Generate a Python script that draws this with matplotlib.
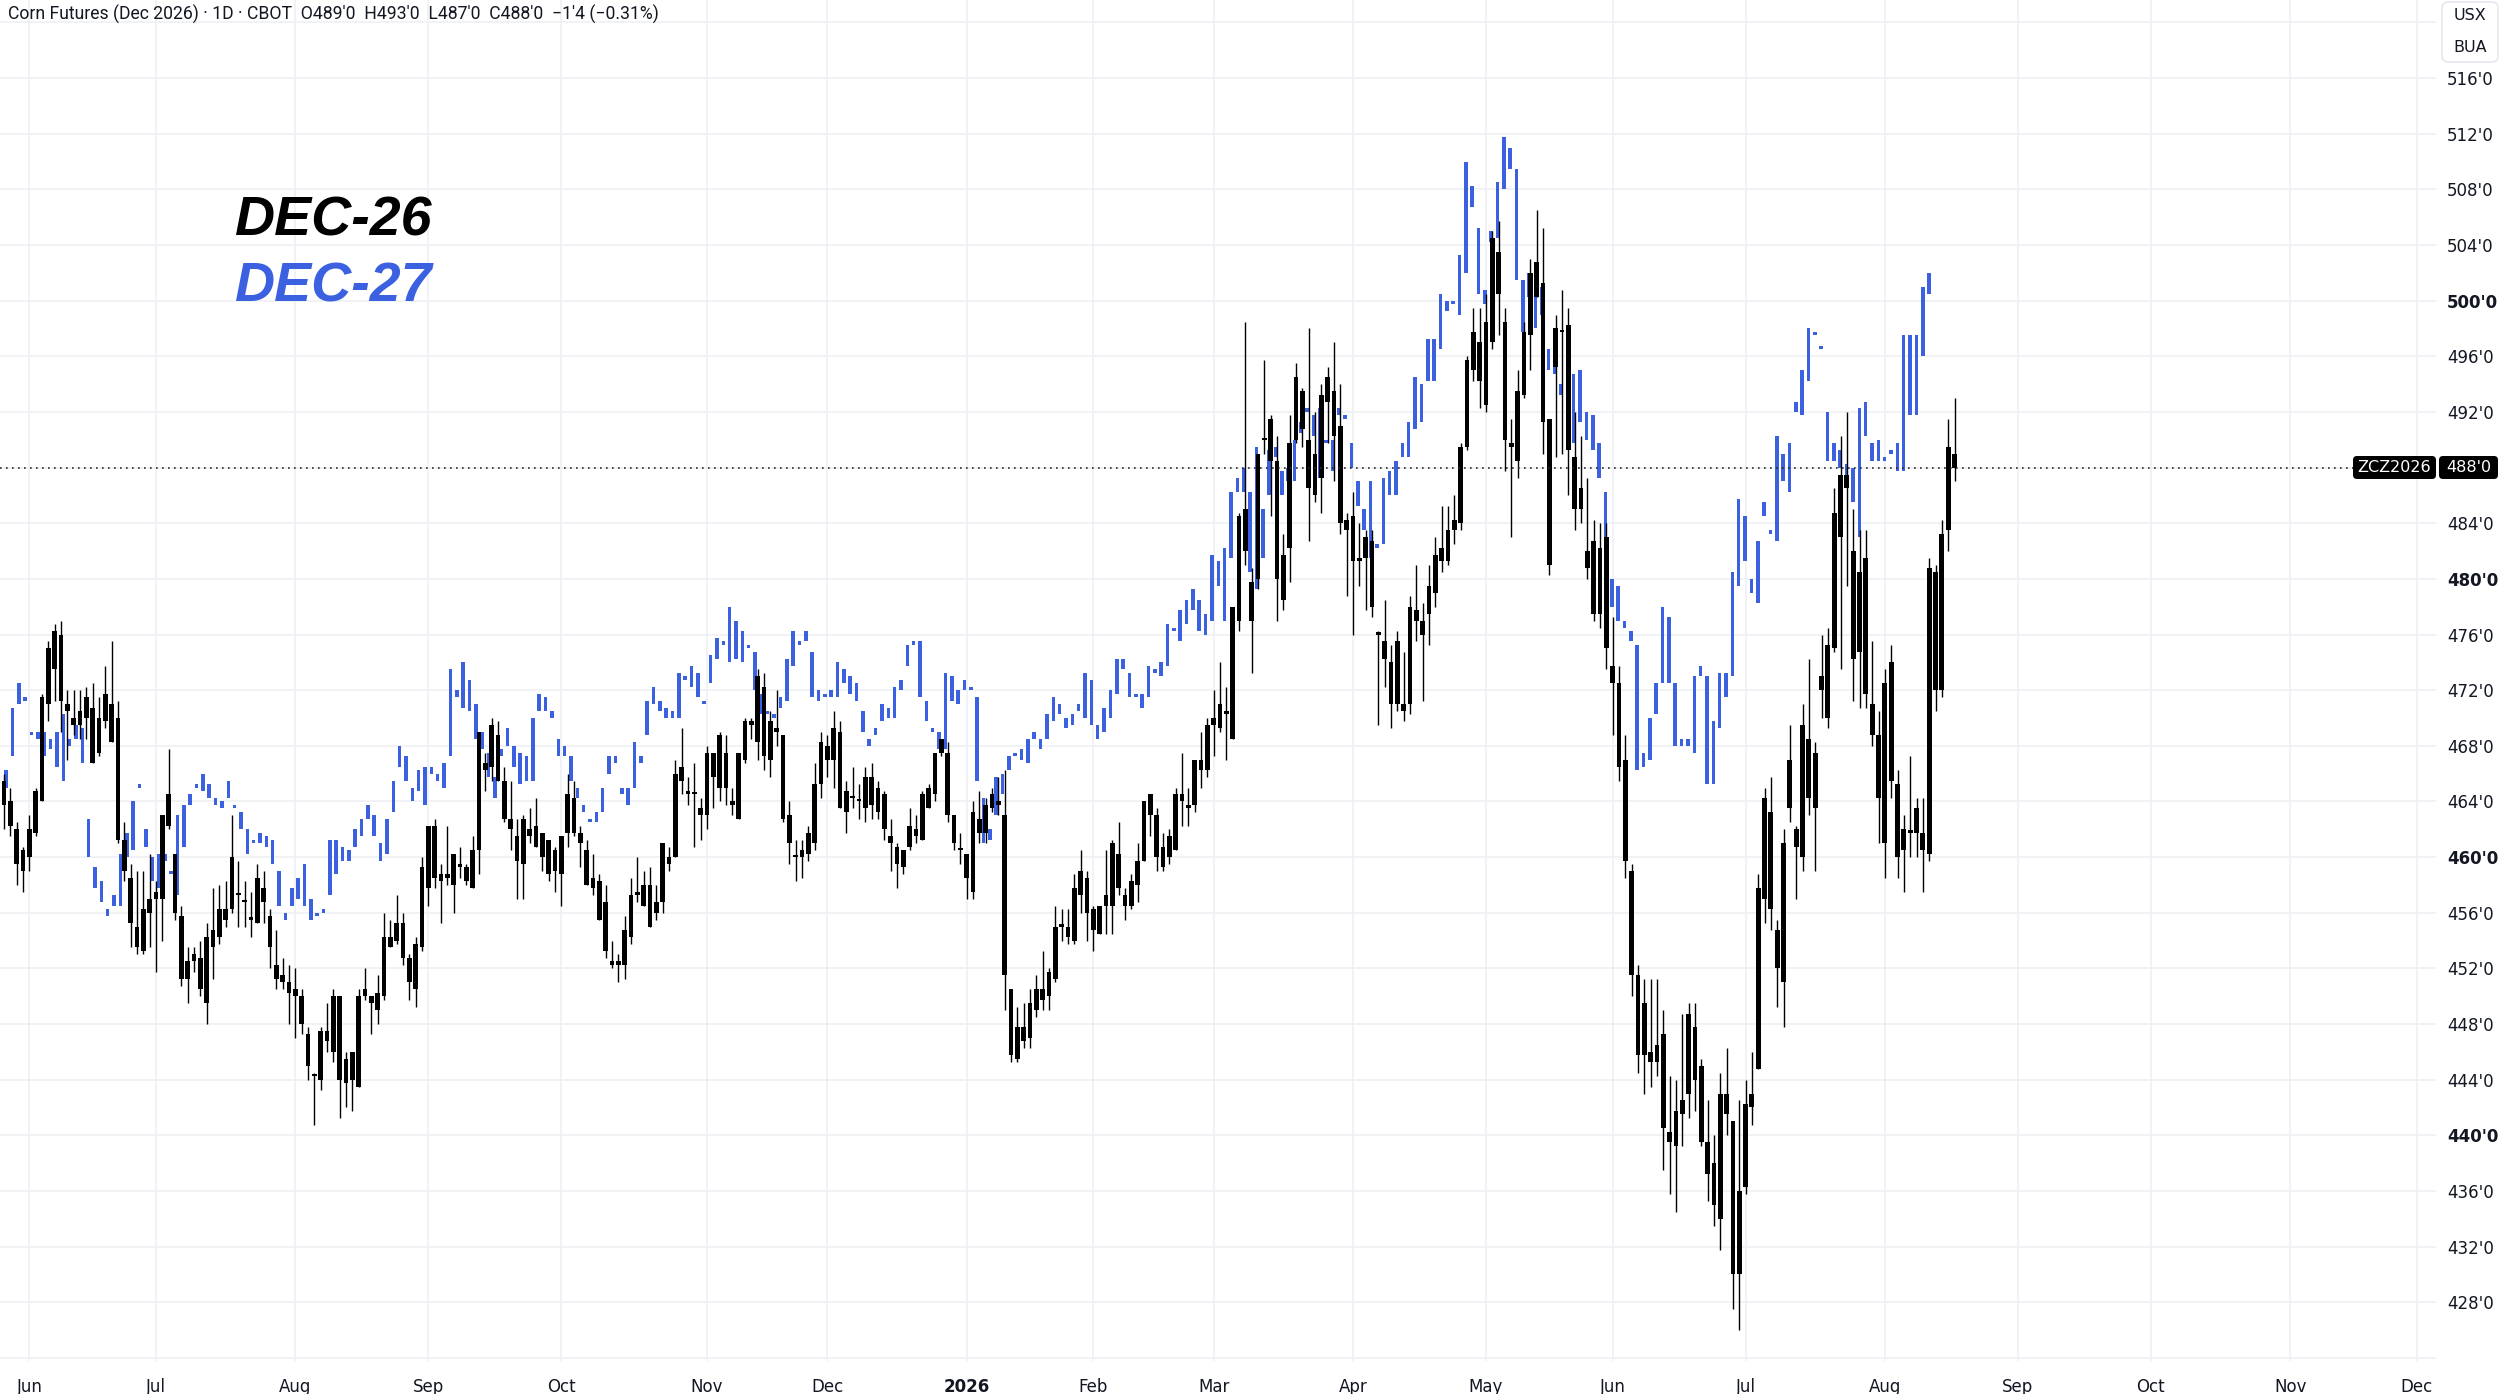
import matplotlib
matplotlib.use("Agg")
import matplotlib.pyplot as plt
import numpy as np
import pandas as pd
from matplotlib.patches import FancyBboxPatch

W, H = 2500, 1394

# ---------------- calendar ----------------
holidays = ["2025-06-19", "2025-07-04", "2025-09-01", "2025-11-27", "2025-12-25",
            "2026-01-01", "2026-01-19", "2026-02-16", "2026-04-03", "2026-05-25",
            "2026-06-19", "2026-07-03", "2026-09-07", "2026-11-26", "2026-12-25"]
first_day = "2025-05-27"
last_day = "2026-12-31"

month_labels = ["Jun", "Jul", "Aug", "Sep", "Oct", "Nov", "Dec", "2026", "Feb", "Mar",
                "Apr", "May", "Jun", "Jul", "Aug", "Sep", "Oct", "Nov", "Dec"]

price_ticks = list(range(428, 517, 4))

title = "Corn Futures (Dec 2026) \u00b7 1D \u00b7 CBOT  O489'0  H493'0  L487'0  C488'0  \u22121'4 (\u22120.31%)"
last_price = 488.0

# ---------------- DEC-26 daily OHLC (from 27 May 2025) ----------------
dec26_open = [
    463.75, 464, 462, 459,
    460, 461.75, 464, 471, 473.5, 476, 470.5, 470, 469.5, 470,
    470.75, 467.5, 469.75, 471, 470, 461.25, 458.5, 455, 453.25, 456,
    457, 457, 462.25, 460.25, 455.75, 451.25, 452.5, 452.75, 449.5, 453.5,
    454.25, 456.25, 456.25, 457.25, 456.75, 455.5, 455.25, 457.75, 455.75, 452.25,
    451.5, 451, 450.5, 450, 447.25, 444.25, 444, 447.5, 446, 450,
    445.5, 444, 443.5, 450, 450, 449, 450, 454.25, 454, 455.25,
    452.75, 450.5, 453.5, 457.75, 462.25, 458.25, 458.5, 458, 459.25, 459.25,
    457.75, 460.5, 466.75, 466.5, 468.75, 465.5, 462.75, 461.5, 459.5, 462,
    460.75, 461.75, 461.25, 459, 458.75, 461.75, 464.25, 461.75, 460.5, 458.5,
    458.25, 456.75, 452.5, 452.25, 452.25, 454.25, 457.25, 456.5, 458, 456,
    456.75, 459.5, 460, 465.5, 464.75, 464.5, 463.5, 463, 467.5, 465,
    467.5, 463.75, 462.75, 467, 469.5, 468.25, 472.25, 467, 469.25, 468.75,
    463, 460, 460.5, 460.25, 461, 465.25, 468, 467, 469, 464.75,
    464.25, 464, 463.5, 465.75, 465, 464.5, 461.5, 460.75, 459.25, 460.75,
    462, 461.25, 463.5, 464.5, 467.5, 467.5, 463, 460.5, 460.25, 457.5,
    462.75, 461.75, 463.5, 463.75, 463, 450.5, 445.5, 447.75, 447, 449,
    450.5, 450, 451.25, 455, 455, 454, 457.25, 458.5, 456.25, 454.5,
    456.5, 456.5, 460.25, 457.25, 456.5, 458, 459.75, 464.5, 463, 460.75,
    460, 460.5, 464.5, 463.75, 463.75, 467, 466.25, 469.5, 469.25, 470.5,
    468.5, 477, 482, 479.75, 480, 490, 491.5, 488.5, 481.75, 482.25,
    490, 493.5, 490, 486, 487.25, 492.75, 493.5, 491, 484.25, 484.5,
    481.5, 481.5, 482.75, 476, 474.25, 474, 471, 471, 471, 477,
    477, 477.5, 479, 481.25, 481.25, 483.5, 484, 489.5, 495, 497,
    492.5, 497, 503.5, 498.5, 489.75, 488.5, 493.25, 497.5, 502.75, 501.25,
    491.5, 495.25, 497.75, 498.25, 488.75, 485, 482, 482.75, 477.5, 483,
    473.75, 472.5, 467, 459, 451.5, 449.5, 446, 445.25, 447.25, 440.25,
    439.25, 441.5, 443, 447.75, 445, 439.5, 438, 434, 443, 441,
    430, 436.25, 442, 444.75, 457, 463.25, 454.75, 451, 463.5, 462,
    460, 468.5, 467.5, 472, 470, 475, 483, 487.5, 482, 474.75,
    481.5, 471, 468.75, 461, 474, 465.25, 462, 461.75, 461.75, 461.75,
    460.25, 480.5, 472, 483.5, 489,
]
dec26_high = [
    466, 465, 462.5, 460.75,
    463, 465, 471.75, 475.5, 476.75, 477, 472, 472, 472, 472.25,
    472.5, 471.5, 473.75, 475.5, 471.25, 462.5, 459.5, 459, 459, 460.25,
    458.25, 463, 467.75, 460.25, 456.5, 453.5, 453.5, 454, 455.25, 457.75,
    458, 458.25, 463, 459.75, 458.25, 457.5, 459.5, 459, 456.25, 454.75,
    452.75, 452.25, 452, 450.5, 447.75, 444.5, 447.75, 449.5, 450.5, 450,
    446, 446, 450.5, 452, 450, 451.5, 456, 455.5, 457.25, 456,
    453, 454.25, 460, 462.25, 462.75, 459.5, 462.25, 460.25, 460.75, 459.5,
    461.5, 469, 467.5, 470, 469.75, 466.5, 465.5, 462.75, 463, 463.5,
    464.25, 461.75, 461.25, 460.75, 461.5, 466, 465.5, 462.25, 461.25, 460.25,
    458.75, 458, 454, 453, 455.75, 458.5, 460, 459, 459.25, 458,
    461, 460.75, 467, 469.25, 465.75, 466.75, 464.25, 468, 467.5, 469,
    468.75, 465, 467.5, 470, 470, 473.5, 473.25, 470.5, 472, 468.75,
    464, 461.25, 461.25, 462.25, 466.75, 469, 468.75, 470.5, 469.75, 465.5,
    466.5, 465.25, 466.5, 466.75, 465.5, 464.75, 462.75, 461, 460.5, 463.5,
    463, 464.75, 465.25, 467.5, 468.5, 468.25, 463, 461.75, 460.25, 464,
    464.75, 464.25, 465, 465.75, 466.25, 450.5, 449.25, 449.5, 450.5, 451.5,
    453.25, 452, 456.5, 456.25, 456.25, 458.75, 460.5, 459, 456.5, 456.5,
    460.5, 461.25, 462.5, 457.75, 458.75, 461, 464, 464.5, 463.5, 461.75,
    462, 465, 467.5, 465, 467, 469, 470, 472, 474, 472.25,
    478, 484.75, 498.5, 480.75, 489, 495.75, 491.75, 490.25, 483.25, 491.75,
    495.5, 493.75, 498, 492, 494, 495.25, 497, 494, 484.75, 486.25,
    484, 483.5, 483.5, 476.25, 478.5, 475.25, 476.25, 474.75, 478.75, 481,
    478.25, 481, 483, 485.25, 485.25, 486, 489.75, 496, 499.5, 499.5,
    500.5, 505, 505.75, 499.5, 491.5, 495, 498.5, 503, 506.5, 505.25,
    491.5, 499, 500.75, 499.5, 492, 490.25, 487.25, 484.25, 484, 484,
    477.25, 473.75, 468.75, 459.5, 452.25, 451.25, 451.25, 451.25, 449, 444.25,
    444, 448.75, 449.5, 449.5, 445.5, 442.5, 440, 444.5, 446.25, 441,
    442.5, 444, 446, 458.75, 465, 465.75, 455.5, 462, 469.5, 462.25,
    471, 474.25, 468.25, 476, 476.5, 486.5, 490.25, 492, 485, 483.5,
    483.5, 475.5, 470.5, 473.5, 475.25, 466.25, 463, 467.25, 464.25, 464.25,
    481.5, 481, 484.25, 491.5, 493,
]
dec26_low = [
    462, 461.5, 458, 457.5,
    459, 461.5, 464, 469.75, 471.25, 469, 467, 468.75, 468.5, 468.5,
    466.75, 467.25, 469.25, 468.25, 461, 458.25, 453.5, 453, 453, 453.5,
    451.75, 454, 462, 455.5, 450.75, 449.5, 451.75, 450, 448, 451.25,
    453.75, 455, 456, 455, 455, 454.25, 455.25, 455.25, 452, 450.5,
    450.5, 448, 447, 447.25, 444, 440.75, 443.25, 446, 445.25, 441.25,
    442, 441.75, 443.5, 449.75, 447.25, 448, 449.75, 453.5, 453.75, 452.25,
    449.75, 449.25, 453.25, 456.5, 457.75, 455.25, 458, 456, 458.5, 458,
    457.75, 458.75, 464.75, 465.5, 465.5, 462.5, 460.5, 457, 457, 461,
    460.75, 459, 458.25, 457.5, 456.5, 460.75, 461.5, 459.25, 458, 457.25,
    455.5, 452.75, 452, 451, 451.25, 453.75, 456.75, 456.5, 455, 455.5,
    456, 459, 460, 464.5, 463.75, 460.75, 461.25, 462, 463.5, 464,
    463.75, 463, 462.75, 466.75, 468.5, 467, 466.25, 465.75, 468, 462.5,
    459.5, 458.25, 458.5, 459.75, 460.5, 464.25, 465.75, 465, 463.5, 461.75,
    463.5, 462.75, 462.5, 462.75, 462.75, 461.25, 459, 457.75, 458.75, 460.5,
    461, 461.25, 463.5, 464, 467.25, 462.5, 460.5, 459.5, 457, 457,
    461, 461, 463.25, 463, 449, 445.25, 445.25, 446.25, 446.25, 448.5,
    449, 449, 451, 454, 453.75, 453.75, 456, 454, 453.25, 454.5,
    454.5, 454.5, 457.25, 455.5, 456.25, 456.75, 459.75, 461.5, 459, 459,
    459.5, 460.5, 462.25, 462.25, 463.25, 465, 465.75, 467.25, 469, 467,
    468.5, 476.25, 481, 473.25, 479.25, 489, 484.5, 477, 477.75, 479.75,
    489.75, 489.5, 482.75, 485.5, 484.75, 489.75, 487, 483.25, 478.75, 476,
    479.5, 477.75, 477.25, 469.5, 472.25, 469.25, 470.5, 469.75, 470.25, 475.5,
    471.25, 475.25, 478, 480.5, 481, 482.5, 483.5, 489.25, 494.25, 492.25,
    492, 496.5, 497.5, 487.75, 483, 487.25, 493, 495, 500.25, 489,
    480.25, 488.75, 489, 486, 483.5, 484, 480, 477, 476.5, 473.5,
    468.75, 465.5, 458.5, 450, 444.5, 443, 443.5, 444.25, 437.5, 435.75,
    434.5, 439.25, 441.25, 441.75, 439.25, 435.25, 433.5, 431.75, 440, 427.5,
    426, 435.75, 440.75, 444.75, 455.25, 454.75, 449.25, 447.75, 462.5, 457,
    459, 463, 459, 470, 469.25, 474.75, 473.5, 479.5, 471.25, 470.75,
    470.75, 468, 461, 458.5, 464.25, 458.5, 457.5, 460, 460, 457.5,
    459.75, 470.5, 471.5, 482, 487,
]
dec26_close = [
    465.5, 462.25, 459.5, 460.5,
    462, 464.75, 471.5, 475, 476.25, 471.25, 471, 469.5, 470.5, 471.5,
    466.75, 470, 471.75, 468.25, 461.25, 459, 455.25, 453.5, 456.25, 457,
    457.5, 463, 464.5, 456, 451.25, 452.5, 453, 450.5, 454.25, 454.75,
    456.25, 455.5, 460, 457.25, 456.75, 455.5, 458.5, 456.75, 453.5, 451.25,
    451, 450.25, 450, 448, 445, 444.25, 447.5, 446.75, 450, 444,
    443.75, 446, 450, 450.5, 449.5, 450.25, 454.25, 453.5, 455.25, 452.75,
    451, 453.75, 459.25, 462.25, 458.5, 458.75, 458.75, 460.25, 459.5, 458.25,
    460.5, 469, 466.25, 469.5, 465.5, 462.75, 462, 459.75, 462.75, 461.5,
    462.25, 460, 458.75, 460.5, 461.5, 464.5, 461.75, 461, 458, 457.75,
    455.5, 453.25, 452.25, 452.5, 454.75, 457.25, 457.5, 458, 455, 456.75,
    461, 460, 466, 466.5, 464.5, 464.5, 463, 467.5, 465.75, 468.75,
    465, 464, 467.5, 469.75, 469.75, 473, 467.25, 469.75, 469, 462.75,
    461, 460, 460, 461.75, 465.25, 468.25, 467, 469.25, 463.5, 463.25,
    464.25, 464, 465.75, 463.75, 463.25, 462, 461, 459.5, 460.5, 462.25,
    461.5, 464.5, 465, 467.5, 468.5, 463, 461, 460.5, 458.5, 463.25,
    461.75, 463.75, 464.5, 464, 451.5, 445.75, 447.75, 446.75, 449.5, 450.5,
    449.75, 451.75, 455, 455, 454.25, 457.75, 459, 456, 454.75, 456.5,
    457.25, 461, 457.75, 456.5, 458.25, 459.75, 464, 463, 460, 459.25,
    461.5, 464.5, 464, 463.5, 467, 466.25, 469.5, 470, 471, 470.25,
    478, 484.5, 485, 477, 489, 490, 488.5, 480, 478.5, 489.75,
    494.5, 490.75, 486.5, 489, 493.25, 494.5, 490.25, 484, 483.5, 481.25,
    481.25, 483, 478, 476, 475.5, 471, 475.5, 470.5, 478, 477.75,
    476, 479.5, 481.75, 482.25, 483.5, 484.25, 489.5, 495.75, 497.75, 494.25,
    498.5, 504.5, 500.5, 490, 489.5, 493.5, 497.75, 502, 500.25, 491.25,
    481, 498, 497.75, 489.25, 485, 486.5, 480.75, 477.5, 482.25, 475,
    472.5, 466.5, 459.75, 451.5, 445.75, 445.75, 445.25, 446.5, 440.5, 439.5,
    441.75, 442.5, 448.75, 444, 439.5, 437.25, 435, 443, 441.5, 430,
    436, 442.25, 443, 457.75, 464.25, 456.25, 452, 461, 467, 460.75,
    469.5, 464.25, 463.5, 473, 475.25, 484.75, 487.5, 486.5, 474.25, 480.5,
    471.75, 468.75, 464.25, 472.5, 465.5, 460, 460.5, 461.75, 463.5, 460.5,
    480.75, 472, 483.25, 489.5, 488,
]

# ---------------- DEC-27 daily bars (body low / body high) ----------------
dec27_body_low = [
    465, 467.25, 471, 471.25,
    468.75, 468.5, 467.25, 467.75, 466.5, 465.5, 468, 468.5, 466.75, 460,
    457.75, 456.75, 455.75, 456.5, 456.5, 460, 460.5, 465, 460.75, 458.25,
    457.75, 459.75, 458.75, 457.25, 460.75, 463.75, 465, 464.75, 464.25, 463.75,
    463.5, 464.25, 463.5, 462, 460.25, 461, 461, 460.75, 459.5, 456.5,
    455.5, 456.5, 457, 456.5, 455.5, 455.75, 456, 457.25, 458.75, 459.75,
    459.75, 460.75, 461.5, 462.75, 461.5, 459.75, 460.25, 463.25, 466.5, 465.5,
    464, 464.75, 463.75, 466, 465.5, 465, 467.25, 471.5, 470.75, 470.5,
    468.5, 467.75, 465.75, 464.25, 467.25, 468, 466.5, 465.25, 465.5, 465.5,
    470.5, 470.5, 470, 467.25, 467.25, 465.5, 464.25, 463.25, 462.5, 462.5,
    463.25, 466, 466.75, 464.5, 463.75, 465, 466.75, 468.75, 471, 470.5,
    470, 470, 470, 472.75, 472.25, 471.5, 471, 472.5, 474.25, 475.25,
    474, 474.25, 474, 475, 472, 470.25, 470.25, 470, 470.75, 471.25,
    473.75, 475.25, 475.5, 471.5, 471.25, 471.5, 471.5, 471.5, 472.5, 471.75,
    471.25, 469, 468, 468.75, 469.75, 470, 470, 472, 473.75, 475.25,
    471.5, 469.75, 469, 467.75, 467.75, 471.25, 471, 472, 472, 465.5,
    461, 461.25, 463, 464.5, 466.25, 467.25, 467, 466.75, 468.5, 467.75,
    468.5, 469.75, 470.25, 469.25, 469.5, 470.5, 470, 469.5, 468.5, 469,
    470, 471.75, 473.5, 471.5, 471.5, 470.75, 471.5, 473.25, 473, 473.75,
    476.25, 475.5, 476.75, 477.75, 476.25, 476, 477, 479.5, 477, 481.5,
    486.25, 486.25, 480.5, 479.25, 481.5, 486, 488.75, 486, 487, 487,
    490.5, 492, 490.25, 487.25, 489.75, 487.75, 491.75, 491.5, 488, 485.25,
    483.5, 481.5, 482.25, 482.5, 486, 486, 488.75, 488.75, 490.75, 491.25,
    494.25, 494.25, 496.5, 499.25, 499.75, 499, 502, 506.75, 500.5, 499.75,
    504.25, 504.5, 508, 509.5, 501.5, 497.75, 500.25, 498, 499, 495,
    494.75, 493.25, 492.5, 489.75, 491.25, 490, 489.25, 487.25, 483, 478,
    477, 476.5, 475.5, 466.25, 466.5, 467, 470.25, 472.5, 472.5, 468,
    468, 468, 467.5, 473, 465.25, 465.25, 469.25, 471.5, 473, 479.5,
    481.25, 479, 478.25, 484.5, 483.25, 482.75, 487, 486.25, 492, 491.75,
    494.25, 497.5, 496.5, 488.5, 488.5, 488, 486.75, 485.5, 483, 490.25,
    488.5, 488.5, 488.5, 489, 487.75, 487.75, 491.75, 491.75, 496, 500.5,
]
dec27_body_high = [
    466.25, 470.75, 472.5, 471.5,
    469, 469, 469, 468.5, 469, 470.25, 468.5, 469.5, 469.25, 462.75,
    459.25, 458.25, 456.25, 457.25, 460.25, 461.75, 464, 465.25, 462, 460,
    460.25, 460.25, 459, 463, 463.75, 464.5, 465.25, 466, 465.25, 464.25,
    464, 465.5, 463.75, 463.25, 462, 461.25, 461.75, 461.5, 461.25, 459,
    456, 457.75, 458.5, 459.5, 457, 456, 456.25, 461.25, 461.25, 460.75,
    460.5, 462, 462.75, 463.75, 463, 461, 462.75, 465.5, 468, 467.25,
    465, 466.25, 466.5, 466.5, 466, 466.75, 473.5, 472, 474, 472.75,
    471, 469, 467.5, 465.75, 467.75, 469.25, 468, 467.5, 467.25, 470,
    471.75, 471.5, 470.5, 468.5, 468, 467.25, 465, 463.75, 462.75, 463.25,
    465, 467.25, 467.25, 465, 465, 468.25, 467.25, 471.25, 472.25, 471.25,
    470.75, 470.5, 473.25, 473, 473.75, 473.25, 471.25, 474.5, 475.75, 475.5,
    478, 477, 476.25, 475.25, 474.75, 471.75, 470.5, 470.25, 471.5, 474.25,
    476.25, 475.5, 476.25, 474.75, 472, 471.75, 472, 474, 473.5, 473,
    472.5, 470.5, 468.5, 469.25, 471, 470.75, 472.25, 472.75, 475.25, 475.5,
    475.5, 471.25, 469.25, 469, 473.25, 473, 472, 472.75, 472.25, 471.5,
    464.25, 462, 465.75, 466, 467.25, 467.5, 467.75, 468.5, 469, 468.5,
    470.25, 471.5, 471, 470, 470.25, 471, 473.25, 472.75, 469.5, 470.75,
    472, 474.25, 474.25, 473.25, 471.75, 471.75, 473.75, 473.5, 474, 476.75,
    476.5, 477.75, 478.5, 479.25, 478.5, 477.5, 481.75, 481.25, 482.25, 486.25,
    487.25, 488, 486.25, 489.5, 485, 489.25, 489.5, 487.75, 488, 490,
    491.25, 492.25, 491.75, 492.25, 490, 490, 492.25, 491.75, 489.75, 487,
    485, 487, 482.5, 487.25, 487.75, 488.5, 489.75, 491.25, 494.5, 494,
    497.25, 497.25, 500.5, 500, 500, 503.25, 510, 508.25, 505.25, 500.75,
    505, 508.5, 511.75, 511, 509.5, 501.5, 502, 501.5, 501, 496.5,
    496.25, 494, 494, 494.75, 495, 492, 491.75, 489.75, 486.25, 480,
    479.5, 477, 476.25, 475.25, 467.5, 470, 472.5, 478, 477.25, 472.5,
    468.5, 468.5, 473, 473.75, 473, 469.75, 473.25, 473.25, 480.5, 485.75,
    484.5, 480, 482.75, 485.5, 483.5, 490.25, 489, 489.75, 492.75, 495,
    498, 497.75, 496.75, 492, 489.75, 489.25, 488.25, 488, 492.25, 492.75,
    489.75, 490, 488.75, 489.25, 489.75, 497.5, 497.5, 497.5, 501, 502,
]

# ---------------- styling ----------------
BLACK = "#000000"
BLUE = "#3b61e1"
GRID = "#eef0f4"
TEXT = "#131722"

fig = plt.figure(figsize=(W / 100, H / 100), dpi=100)
fig.patch.set_facecolor("white")
ax_left, ax_right, ax_top, ax_bottom = 0, 2436, 0, 1361
ax = fig.add_axes([ax_left / W, 1 - ax_bottom / H, (ax_right - ax_left) / W, (ax_bottom - ax_top) / H])
ax.set_facecolor("white")

dates = pd.bdate_range(first_day, last_day, freq="C", holidays=holidays)
# first trading day of every month from June 2025 on
month_pos = []
prev = None
for k, d in enumerate(dates):
    key = (d.year, d.month)
    if key != prev:
        if prev is not None:
            month_pos.append(k)
        prev = key
month_pos = month_pos[:len(month_labels)]

bar_px = 6.333
ax.set_xlim(4 - 29.33 / bar_px, 4 + (ax_right - 29.33) / bar_px)
ax.set_ylim(516 - (ax_bottom - 78.1) / 13.91, 516 + 78.1 / 13.91)

# grid
ax.set_yticks(price_ticks)
ax.set_xticks(month_pos)
ax.grid(True, color=GRID, lw=1.2, zorder=0)
for extra in (424, 520):
    ax.axhline(extra, color=GRID, lw=1.2, zorder=0)
ax.set_axisbelow(True)

# DEC-27 (blue, bodies only)
lo27 = np.array(dec27_body_low)
hi27 = np.array(dec27_body_high)
x27 = np.arange(len(lo27))
shift27 = 0.35 + 0.0021 * (x27 - 4)
ax.bar(x27 + shift27, np.maximum(hi27 - lo27, 0.16), bottom=lo27, width=0.56,
       color=BLUE, linewidth=0, zorder=2)

# DEC-26 (black candles)
o = np.array(dec26_open)
h = np.array(dec26_high)
l = np.array(dec26_low)
c = np.array(dec26_close)
x26 = np.arange(len(o))
ax.vlines(x26, l, h, color=BLACK, lw=1.0, zorder=3)
ax.bar(x26, np.maximum(np.abs(c - o), 0.16), bottom=np.minimum(o, c), width=0.76,
       color=BLACK, linewidth=0, zorder=3)

# last price dotted line
ax.axhline(last_price, xmax=2353 / ax_right, color="#2a2a2a", lw=1.2,
           ls=(0, (1, 2.6)), zorder=4)

for s in ax.spines.values():
    s.set_visible(False)

ax.yaxis.tick_right()
ax.tick_params(axis="y", length=0, pad=8, labelsize=12, labelcolor=TEXT)
ax.tick_params(axis="x", length=0, pad=12, labelsize=12, labelcolor=TEXT)
ax.set_yticklabels([f"{v}'0" for v in price_ticks])
ax.set_xticklabels(month_labels)
for lab, v in zip(ax.get_yticklabels(), price_ticks):
    lab.set_horizontalalignment("left")
    if v % 20 == 0:
        lab.set_fontweight("bold")
for lab, t in zip(ax.get_xticklabels(), month_labels):
    if t.isdigit():
        lab.set_fontweight("bold")


def px_box(x0, y0, x1, y1, fc, ec="none", r=4, lw=1):
    p = FancyBboxPatch((x0 / W, 1 - y1 / H), (x1 - x0) / W, (y1 - y0) / H,
                       boxstyle=f"round,pad=0,rounding_size={r / W}",
                       mutation_aspect=W / H, transform=fig.transFigure,
                       facecolor=fc, edgecolor=ec, lw=lw, clip_on=False, zorder=10)
    fig.add_artist(p)


# price label boxes
px_box(2353, 456, 2436, 479, BLACK)
px_box(2439, 456, 2498, 479, BLACK)
fig.text(2394.5 / W, 1 - 467.5 / H, "ZCZ2026", color="white", ha="center", va="center",
         fontsize=11.5, zorder=11)
fig.text(2468.5 / W, 1 - 467.5 / H, f"{int(last_price)}'0", color="white", ha="center",
         va="center", fontsize=11.5, zorder=11)

# currency/unit box
px_box(2442, 2, 2498, 62, "white", ec="#e0e3eb", r=6)
fig.text(2470 / W, 1 - 15 / H, "USX", color=TEXT, ha="center", va="center", fontsize=11.5, zorder=11)
fig.text(2470 / W, 1 - 48 / H, "BUA", color=TEXT, ha="center", va="center", fontsize=11.5, zorder=11)

# title
fig.text(8 / W, 1 - 14 / H, title, color=TEXT, ha="left", va="center", fontsize=12.7,
         family=["Roboto", "DejaVu Sans"])

# big series labels
fig.text(234 / W, 1 - 235 / H, "DEC-26", color=BLACK, ha="left", va="baseline",
         fontsize=40, fontweight="bold", fontstyle="italic", family=["Liberation Sans", "DejaVu Sans"])
fig.text(234 / W, 1 - 302 / H, "DEC-27", color=BLUE, ha="left", va="baseline",
         fontsize=40, fontweight="bold", fontstyle="italic", family=["Liberation Sans", "DejaVu Sans"])

fig.savefig("out.png", dpi=100, facecolor="white")
